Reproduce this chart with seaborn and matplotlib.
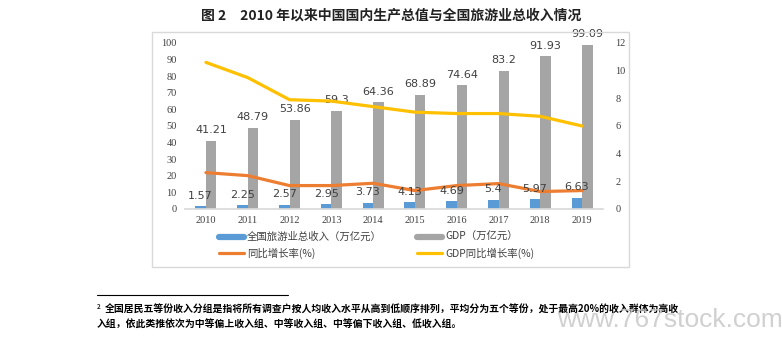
import matplotlib
matplotlib.use("Agg")
import matplotlib.pyplot as plt
import seaborn as sns
import pandas as pd
import numpy as np
from matplotlib.lines import Line2D
from matplotlib.patches import Rectangle

# data
years = ["2010", "2011", "2012", "2013", "2014", "2015", "2016", "2017", "2018", "2019"]
tourism_income = [1.57, 2.25, 2.57, 2.95, 3.73, 4.13, 4.69, 5.4, 5.97, 6.63]
gdp = [41.21, 48.79, 53.86, 59.3, 64.36, 68.89, 74.64, 83.2, 91.93, 99.09]
tourism_growth = [21.9, 20.1, 14.1, 14.1, 15.5, 11.1, 14.1, 15.3, 10.5, 11.1]
gdp_growth = [10.6, 9.5, 7.9, 7.8, 7.4, 7.0, 6.9, 6.9, 6.7, 6.0]

BLUE = "#5B9BD5"
GRAY = "#A5A5A5"
ORANGE = "#ED7D31"
YELLOW = "#FFC000"
CJK = ["Noto Sans CJK SC", "DejaVu Sans"]

sns.set_theme(style="white")
plt.rcParams["font.family"] = CJK

bars = pd.DataFrame({
    "year": years * 2,
    "value": tourism_income + gdp,
    "series": ["tourism"] * len(years) + ["gdp"] * len(years),
})

fig = plt.figure(figsize=(7.82, 3.51), dpi=100)
ax = fig.add_axes([0.2366, 0.4046, 0.5345, 0.4729])

sns.barplot(data=bars, x="year", y="value", hue="series", palette=[BLUE, GRAY],
            width=0.5, saturation=1, linewidth=0, ax=ax, legend=False)

for cont in ax.containers:
    ax.bar_label(cont, labels=[f"{v:g}" for v in cont.datavalues], padding=4,
                 fontsize=8, color="#404040", family="DejaVu Sans")

x = np.arange(len(years))
sns.lineplot(x=x, y=tourism_growth, color=ORANGE, linewidth=2.3, ax=ax)

ax2 = ax.twinx()
sns.lineplot(x=x, y=gdp_growth, color=YELLOW, linewidth=2.3, ax=ax2)

ax.set_xlim(-0.5, len(years) - 0.5)
ax.set_ylim(0, 100)
ax.set_yticks(range(0, 101, 10))
ax2.set_ylim(0, 12)
ax2.set_yticks(range(0, 13, 2))
ax.set_xlabel("")
ax.set_ylabel("")
ax2.set_ylabel("")

for a in (ax, ax2):
    for s in a.spines.values():
        s.set_visible(False)
    a.tick_params(length=0, labelsize=7.5, labelcolor="#404040")
    for lbl in a.get_xticklabels() + a.get_yticklabels():
        lbl.set_family("Liberation Serif")
ax.spines["bottom"].set_visible(True)
ax.spines["bottom"].set_color("#D9D9D9")
ax.tick_params(axis="x", pad=5)
ax.tick_params(axis="y", pad=6)
ax2.tick_params(axis="y", pad=9)

# chart frame
fig.add_artist(Rectangle((0.1944, 0.2393), 0.61, 0.6695, transform=fig.transFigure,
                         fill=False, edgecolor="#D9D9D9", linewidth=1))

handles = [
    Line2D([], [], color=BLUE, linewidth=4.5),
    Line2D([], [], color=ORANGE, linewidth=2.3),
    Line2D([], [], color=GRAY, linewidth=4.5),
    Line2D([], [], color=YELLOW, linewidth=2.3),
]
labels = ["全国旅游业总收入（万亿元）", "同比增长率(%)", "GDP（万亿元）", "GDP同比增长率(%)"]
fig.legend(handles, labels, ncol=2, loc="upper left", bbox_to_anchor=(0.268, 0.366),
           frameon=False, fontsize=7.5, handlelength=2.4, handletextpad=0.3,
           columnspacing=3.4, labelspacing=0.55, labelcolor="#404040")

fig.text(0.5, 0.957, "图 2　2010 年以来中国国内生产总值与全国旅游业总收入情况",
         ha="center", va="center", fontsize=10, fontweight="bold", color="#222222")

# footnote
fig.add_artist(Line2D([0.124, 0.368], [0.160, 0.160], transform=fig.transFigure,
                      color="black", linewidth=0.8))
fig.text(0.124, 0.128, "2", fontsize=4.5, va="center", fontweight="bold")
fig.text(0.134, 0.119,
         "全国居民五等份收入分组是指将所有调查户按人均收入水平从高到低顺序排列，平均分为五个等份，处于最高20%的收入群体为高收",
         fontsize=7.1, va="center", color="black", fontweight="bold")
fig.text(0.124, 0.077,
         "入组，依此类推依次为中等偏上收入组、中等收入组、中等偏下收入组、低收入组。",
         fontsize=7.1, va="center", color="black", fontweight="bold")
fig.text(0.712, 0.088, "www.767stock.com", fontsize=19, color="#C8C8C8",
         family="Liberation Sans", va="center", alpha=0.85)

fig.savefig("out.png", dpi=100)
